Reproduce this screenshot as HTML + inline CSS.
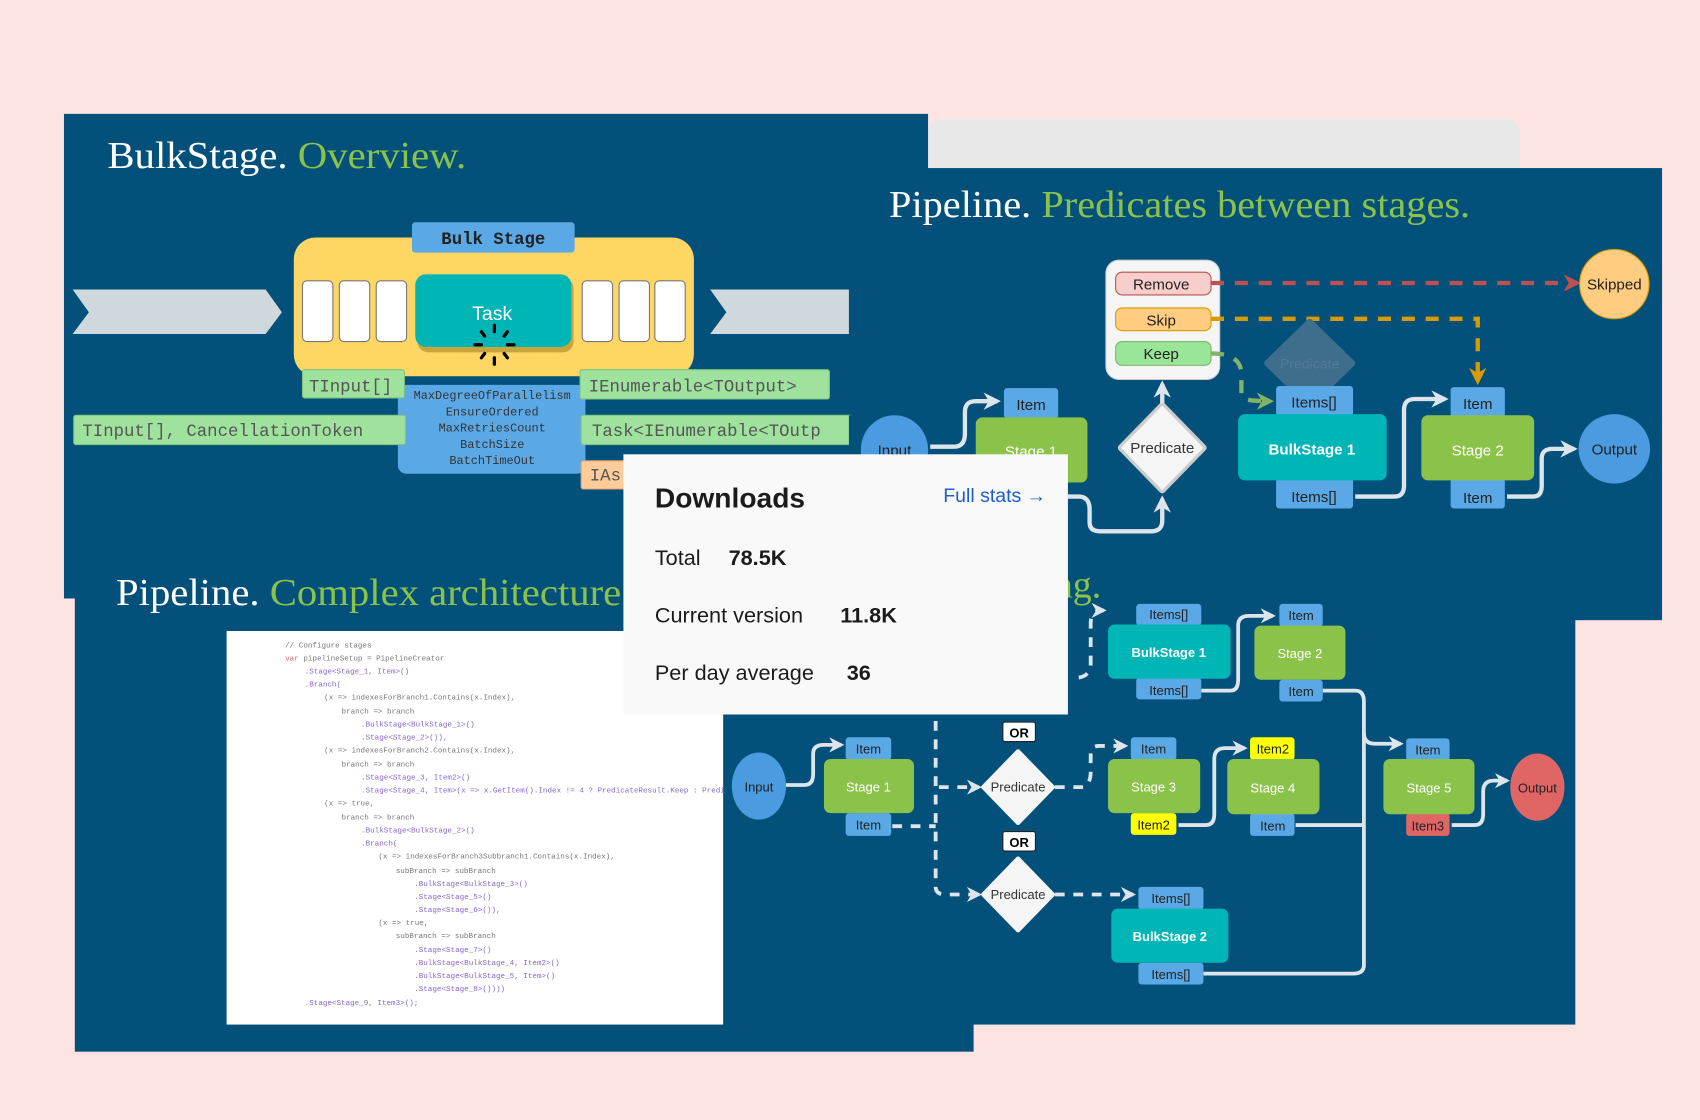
<!DOCTYPE html>
<html><head><meta charset="utf-8"><style>
html,body{margin:0;padding:0;background:#fde4e3;width:1700px;height:1120px;overflow:hidden}
svg{display:block}
.t{font-family:"Liberation Serif",serif;font-size:35px}
.s{font-family:"Liberation Sans",sans-serif}
.m{font-family:"Liberation Mono",monospace}
.c{font-family:"Liberation Mono",monospace;font-size:7px;fill:#777}
</style></head><body>
<svg width="1700" height="1120" viewBox="0 0 1568 1033" xmlns="http://www.w3.org/2000/svg">
<defs>
<marker id="aw" viewBox="0 0 10 10" refX="8" refY="5" markerWidth="4" markerHeight="4" orient="auto"><path d="M0,0L10,5L0,10L3,5z" fill="#dde5ea"/></marker>
<marker id="ar" viewBox="0 0 10 10" refX="8" refY="5" markerWidth="4" markerHeight="4" orient="auto"><path d="M0,0L10,5L0,10L3,5z" fill="#c0504d"/></marker>
<marker id="ay" viewBox="0 0 10 10" refX="8" refY="5" markerWidth="4" markerHeight="4" orient="auto"><path d="M0,0L10,5L0,10L3,5z" fill="#d79b00"/></marker>
<marker id="ag" viewBox="0 0 10 10" refX="8" refY="5" markerWidth="4" markerHeight="4" orient="auto"><path d="M0,0L10,5L0,10L3,5z" fill="#82b366"/></marker>
</defs>
<rect width="1568" height="1033" fill="#fde4e3"/>
<!-- slides -->
<rect x="856" y="110" width="546" height="60" rx="12" fill="#e8e8e8"/>
<rect x="59" y="105" width="797" height="447" fill="#03517b"/>
<rect x="795" y="155" width="738" height="417" fill="#03517b"/>
<rect x="69" y="540" width="829" height="430" fill="#03517b"/>
<rect x="667" y="560" width="786" height="385" fill="#03517b"/>

<!-- slide 1 -->
<text class="t" x="99" y="155" fill="#fff" textLength="331" lengthAdjust="spacingAndGlyphs">BulkStage. <tspan fill="#8bc34a">Overview.</tspan></text>
<polygon points="67,267 245,267 260,288 245,308 67,308 82,288" fill="#cfd8dc"/>
<polygon points="655,267 783,267 783,308 655,308 670,288" fill="#cfd8dc"/>
<rect x="271" y="219" width="369" height="128" rx="20" fill="#fdd663"/>
<rect x="380" y="205" width="150" height="28" rx="3" fill="#5aa9e6"/>
<text class="m" x="455" y="225" font-size="16" font-weight="bold" text-anchor="middle" fill="#222">Bulk Stage</text>
<g fill="#fff" stroke="#777" stroke-width="1">
<rect x="279" y="259" width="28" height="56" rx="4"/><rect x="313" y="259" width="28" height="56" rx="4"/><rect x="347" y="259" width="28" height="56" rx="4"/>
<rect x="537" y="259" width="28" height="56" rx="4"/><rect x="571" y="259" width="28" height="56" rx="4"/><rect x="604" y="259" width="28" height="56" rx="4"/>
</g>
<rect x="385" y="256" width="144" height="69" rx="10" fill="#c9a43a"/>
<rect x="383" y="253" width="144" height="67" rx="10" fill="#00b5b5"/>
<text class="s" x="454" y="295" font-size="18" text-anchor="middle" fill="#fff">Task</text>
<g stroke="#000" stroke-width="3" stroke-linecap="round">
<line x1="456" y1="300" x2="456" y2="306"/><line x1="456" y1="330" x2="456" y2="336"/>
<line x1="438" y1="318" x2="444" y2="318"/><line x1="468" y1="318" x2="474" y2="318"/>
<line x1="444" y1="306" x2="447" y2="310"/><line x1="468" y1="306" x2="465" y2="310"/>
<line x1="444" y1="330" x2="447" y2="326"/><line x1="468" y1="330" x2="465" y2="326"/>
</g>
<rect x="367" y="355" width="173" height="82" rx="8" fill="#5aa9e6"/>
<g class="m" font-size="11" fill="#333" text-anchor="middle">
<text x="454" y="368">MaxDegreeOfParallelism</text><text x="454" y="383">EnsureOrdered</text>
<text x="454" y="398">MaxRetriesCount</text><text x="454" y="413">BatchSize</text><text x="454" y="428">BatchTimeOut</text>
</g>
<g fill="#9ee29e" stroke="#7fc47f">
<rect x="279" y="341" width="94" height="26" rx="2"/>
<rect x="535" y="341" width="230" height="27" rx="2"/>
<rect x="68" y="383" width="306" height="27" rx="2"/>
<rect x="536" y="383" width="250" height="27" rx="2"/>
</g>
<rect x="536" y="425" width="50" height="26" rx="2" fill="#ffcc99" stroke="#e0a070"/>
<g class="m" font-size="16" fill="#555">
<text x="285" y="361">TInput[]</text>
<text x="543" y="361">IEnumerable&lt;TOutput&gt;</text>
<text x="76" y="402">TInput[], CancellationToken</text>
<text x="546" y="402">Task&lt;IEnumerable&lt;TOutp</text>
<text x="544" y="443">IAs</text>
</g>
<rect x="783" y="383" width="12" height="30" fill="#03517b"/>

<!-- slide 2 -->
<text class="t" x="820" y="200" fill="#fff" textLength="536" lengthAdjust="spacingAndGlyphs">Pipeline. <tspan fill="#8bc34a">Predicates between stages.</tspan></text>
<rect x="1020" y="240" width="105" height="110" rx="12" fill="#f5f5f5" stroke="#ccc"/>
<rect x="1029" y="251" width="88" height="21" rx="6" fill="#f8cecc" stroke="#b85450"/>
<rect x="1029" y="284" width="88" height="21" rx="6" fill="#ffcc80" stroke="#d79b00"/>
<rect x="1029" y="315" width="88" height="22" rx="6" fill="#99e699" stroke="#82b366"/>
<g class="s" font-size="14" fill="#222" text-anchor="middle">
<text x="1071" y="267">Remove</text><text x="1071" y="300">Skip</text><text x="1071" y="331">Keep</text></g>
<path d="M1117,261 H1455" stroke="#c0504d" stroke-width="4" stroke-dasharray="12,10" fill="none" marker-end="url(#ar)"/>
<path d="M1117,294 H1363 V352" stroke="#d79b00" stroke-width="4" stroke-dasharray="12,10" fill="none" marker-end="url(#ay)"/>
<path d="M1117,326 Q1145,326 1145,345 V365 Q1145,370 1172,370" stroke="#82b366" stroke-width="4" stroke-dasharray="12,10" fill="none" marker-end="url(#ag)"/>
<polygon points="1208,297 1247,335 1208,373 1169,335" fill="#3f6d8c" stroke="#3f6d8c" stroke-width="6" stroke-linejoin="round"/>
<text class="s" x="1208" y="340" font-size="13" fill="#557a95" text-anchor="middle">Predicate</text>
<ellipse cx="1489" cy="262" rx="32" ry="32" fill="#ffcc80" stroke="#d79b00"/>
<text class="s" x="1489" y="267" font-size="14" fill="#222" text-anchor="middle">Skipped</text>
<ellipse cx="825" cy="415" rx="31" ry="32" fill="#4a9be0"/>
<text class="s" x="825" y="420" font-size="14" fill="#222" text-anchor="middle">Input</text>
<path d="M858,412 H880 Q890,412 890,400 V380 Q890,370 900,370 H920" stroke="#dde5ea" stroke-width="4" fill="none" marker-end="url(#aw)"/>
<rect x="926" y="358" width="50" height="28" rx="3" fill="#5aa9e6"/>
<text class="s" x="951" y="378" font-size="14" fill="#222" text-anchor="middle">Item</text>
<rect x="900" y="385" width="103" height="60" rx="6" fill="#8bc34a"/>
<text class="s" x="951" y="421" font-size="14" fill="#fff" text-anchor="middle">Stage 1</text>
<polygon points="1072,374 1110,413 1072,452 1034,413" fill="#f5f5f5" stroke="#ccc" stroke-width="6" stroke-linejoin="round"/>
<polygon points="1072,374 1110,413 1072,452 1034,413" fill="#f5f5f5"/>
<text class="s" x="1072" y="418" font-size="14" fill="#333" text-anchor="middle">Predicate</text>
<path d="M1072,372 V354" stroke="#dde5ea" stroke-width="4" fill="none" marker-end="url(#aw)"/>
<path d="M985,458 H995 Q1005,458 1005,470 V482 Q1005,490 1015,490 H1062 Q1072,490 1072,480 V460" stroke="#dde5ea" stroke-width="4" fill="none" marker-end="url(#aw)"/>
<rect x="1177" y="356" width="71" height="28" rx="3" fill="#5aa9e6"/>
<rect x="1177" y="441" width="71" height="28" rx="3" fill="#5aa9e6"/>
<rect x="1142" y="382" width="137" height="61" rx="6" fill="#00b5b5"/>
<g class="s" font-size="14" fill="#222" text-anchor="middle"><text x="1212" y="376">Items[]</text><text x="1212" y="463">Items[]</text></g>
<text class="s" x="1210" y="419" font-size="14" font-weight="bold" fill="#fff" text-anchor="middle">BulkStage 1</text>
<rect x="1338" y="357" width="50" height="28" rx="3" fill="#5aa9e6"/>
<rect x="1338" y="441" width="50" height="28" rx="3" fill="#5aa9e6"/>
<rect x="1311" y="383" width="104" height="60" rx="6" fill="#8bc34a"/>
<g class="s" font-size="14" fill="#222" text-anchor="middle"><text x="1363" y="377">Item</text><text x="1363" y="464">Item</text></g>
<text class="s" x="1363" y="420" font-size="14" fill="#fff" text-anchor="middle">Stage 2</text>
<path d="M1250,458 H1286 Q1295,458 1295,448 V378 Q1295,368 1305,368 H1333" stroke="#dde5ea" stroke-width="4" fill="none" marker-end="url(#aw)"/>
<path d="M1390,458 H1414 Q1422,458 1422,448 V423 Q1422,414 1432,414 H1452" stroke="#dde5ea" stroke-width="4" fill="none" marker-end="url(#aw)"/>
<ellipse cx="1489" cy="414" rx="33" ry="32" fill="#4a9be0"/>
<text class="s" x="1489" y="419" font-size="14" fill="#222" text-anchor="middle">Output</text>

<!-- slide 3 -->
<text class="t" x="107" y="558" fill="#fff" textLength="466" lengthAdjust="spacingAndGlyphs">Pipeline. <tspan fill="#8bc34a">Complex architecture</tspan></text>
<text class="t" x="972" y="551" fill="#8bc34a">ng.</text>
<rect x="209" y="582" width="458" height="363" fill="#fff"/>
<g class="c">
<text x="263" y="597">// Configure stages</text>
<text x="263" y="609"><tspan fill="#d66">var</tspan> pipelineSetup = PipelineCreator</text>
<text x="281" y="621" fill="#86c">.Stage&lt;Stage_1, Item&gt;()</text>
<text x="281" y="633" fill="#86c">.Branch(</text>
<text x="299" y="645">(x =&gt; indexesForBranch1.Contains(x.Index),</text>
<text x="315" y="658">branch =&gt; branch</text>
<text x="333" y="670" fill="#86c">.BulkStage&lt;BulkStage_1&gt;()</text>
<text x="333" y="682" fill="#86c">.Stage&lt;Stage_2&gt;()),</text>
<text x="299" y="694">(x =&gt; indexesForBranch2.Contains(x.Index),</text>
<text x="315" y="707">branch =&gt; branch</text>
<text x="333" y="719" fill="#86c">.Stage&lt;Stage_3, Item2&gt;()</text>
<text x="333" y="731" fill="#86c">.Stage&lt;Stage_4, Item&gt;(x =&gt; x.GetItem().Index != 4 ? PredicateResult.Keep : Predi</text>
<text x="299" y="743">(x =&gt; true,</text>
<text x="315" y="756">branch =&gt; branch</text>
<text x="333" y="768" fill="#86c">.BulkStage&lt;BulkStage_2&gt;()</text>
<text x="333" y="780" fill="#86c">.Branch(</text>
<text x="349" y="792">(x =&gt; indexesForBranch3Subbranch1.Contains(x.Index),</text>
<text x="365" y="805">subBranch =&gt; subBranch</text>
<text x="382" y="817" fill="#86c">.BulkStage&lt;BulkStage_3&gt;()</text>
<text x="382" y="829" fill="#86c">.Stage&lt;Stage_5&gt;()</text>
<text x="382" y="841" fill="#86c">.Stage&lt;Stage_6&gt;()),</text>
<text x="349" y="853">(x =&gt; true,</text>
<text x="365" y="865">subBranch =&gt; subBranch</text>
<text x="382" y="878" fill="#86c">.Stage&lt;Stage_7&gt;()</text>
<text x="382" y="890" fill="#86c">.BulkStage&lt;BulkStage_4, Item2&gt;()</text>
<text x="382" y="902" fill="#86c">.BulkStage&lt;BulkStage_5, Item&gt;()</text>
<text x="382" y="914" fill="#86c">.Stage&lt;Stage_8&gt;())))</text>
<text x="281" y="927" fill="#86c">.Stage&lt;Stage_9, Item3&gt;();</text>
</g>

<!-- slide 4 -->
<g fill="none" stroke="#dde5ea" stroke-width="3.5">
<path d="M725,724 H742 Q750,724 750,714 V695 Q750,687 760,687 H776" marker-end="url(#aw)"/>
<path d="M1108,637 H1135 Q1142,637 1142,627 V577 Q1142,568 1152,568 H1174" marker-end="url(#aw)"/>
<path d="M1087,761 H1112 Q1120,761 1120,751 V700 Q1120,690 1130,690 H1148" marker-end="url(#aw)"/>
<path d="M1220,637 H1250 Q1258,637 1258,647 V890 Q1258,898 1248,898 H1110"/>
<path d="M1195,761 H1258"/>
<path d="M1258,676 Q1258,686 1268,686 H1292" marker-end="url(#aw)"/>
<path d="M1339,761 H1360 Q1368,761 1368,751 V730 Q1368,720 1378,720 H1390" marker-end="url(#aw)"/>
</g>
<g fill="none" stroke="#dde5ea" stroke-width="3.5" stroke-dasharray="9,8">
<path d="M823,762 H863"/>
<path d="M863,665 V818 Q863,825 872,825 H903" marker-end="url(#aw)"/>
<path d="M866,726 H903" marker-end="url(#aw)"/>
<path d="M973,726 H1000 Q1006,722 1006,712 V695 Q1006,688 1014,688 H1038" marker-end="url(#aw)"/>
<path d="M995,625 Q1006,623 1006,612 V575 Q1006,563 1016,563 H1018" marker-end="url(#aw)"/>
<path d="M973,825 H1045" marker-end="url(#aw)"/>
</g>
<ellipse cx="700" cy="725" rx="25" ry="31" fill="#4a9be0"/>
<g class="s" font-size="12" fill="#222" text-anchor="middle">
<text x="700" y="730">Input</text>
<rect x="780" y="680" width="42" height="21" rx="3" fill="#5aa9e6"/><text x="801" y="695">Item</text>
<rect x="780" y="750" width="42" height="21" rx="3" fill="#5aa9e6"/><text x="801" y="765">Item</text>
<rect x="760" y="700" width="83" height="50" rx="6" fill="#8bc34a"/><text x="801" y="730" fill="#fff">Stage 1</text>

<rect x="1048" y="557" width="60" height="20" rx="3" fill="#5aa9e6"/><text x="1078" y="571">Items[]</text>
<rect x="1048" y="625" width="60" height="20" rx="3" fill="#5aa9e6"/><text x="1078" y="641">Items[]</text>
<rect x="1022" y="576" width="113" height="50" rx="6" fill="#00b5b5"/><text x="1078" y="606" fill="#fff" font-weight="bold">BulkStage 1</text>

<rect x="1180" y="557" width="40" height="21" rx="3" fill="#5aa9e6"/><text x="1200" y="572">Item</text>
<rect x="1180" y="627" width="40" height="20" rx="3" fill="#5aa9e6"/><text x="1200" y="642">Item</text>
<rect x="1157" y="577" width="84" height="50" rx="6" fill="#8bc34a"/><text x="1199" y="607" fill="#fff">Stage 2</text>

<rect x="1043" y="680" width="42" height="21" rx="3" fill="#5aa9e6"/><text x="1064" y="695">Item</text>
<rect x="1043" y="750" width="42" height="20" rx="3" fill="#ffff00"/><text x="1064" y="765">Item2</text>
<rect x="1022" y="700" width="85" height="50" rx="6" fill="#8bc34a"/><text x="1064" y="730" fill="#fff">Stage 3</text>

<rect x="1153" y="680" width="41" height="21" rx="3" fill="#ffff00"/><text x="1174" y="695">Item2</text>
<rect x="1153" y="750" width="41" height="21" rx="3" fill="#5aa9e6"/><text x="1174" y="766">Item</text>
<rect x="1132" y="700" width="85" height="51" rx="6" fill="#8bc34a"/><text x="1174" y="731" fill="#fff">Stage 4</text>

<rect x="1297" y="681" width="40" height="21" rx="3" fill="#5aa9e6"/><text x="1317" y="696">Item</text>
<rect x="1297" y="750" width="40" height="21" rx="3" fill="#e06666"/><text x="1317" y="766">Item3</text>
<rect x="1276" y="700" width="84" height="51" rx="6" fill="#8bc34a"/><text x="1318" y="731" fill="#fff">Stage 5</text>

<ellipse cx="1418" cy="726" rx="25" ry="31" fill="#e06666"/><text x="1418" y="731">Output</text>

<rect x="1050" y="818" width="60" height="21" rx="3" fill="#5aa9e6"/><text x="1080" y="833">Items[]</text>
<rect x="1050" y="888" width="60" height="20" rx="3" fill="#5aa9e6"/><text x="1080" y="903">Items[]</text>
<rect x="1025" y="838" width="108" height="50" rx="6" fill="#00b5b5"/><text x="1079" y="868" fill="#fff" font-weight="bold">BulkStage 2</text>

<polygon points="939,693 971,726 939,759 907,726" fill="#f5f5f5" stroke="#f5f5f5" stroke-width="4" stroke-linejoin="round"/><text x="939" y="730" fill="#333">Predicate</text>
<polygon points="939,792 971,825 939,858 907,825" fill="#f5f5f5" stroke="#f5f5f5" stroke-width="4" stroke-linejoin="round"/><text x="939" y="829" fill="#333">Predicate</text>
<rect x="925" y="666" width="30" height="18" rx="2" fill="#fff" stroke="#222"/><text x="940" y="680" font-weight="bold" fill="#000">OR</text>
<rect x="925" y="767" width="30" height="18" rx="2" fill="#fff" stroke="#222"/><text x="940" y="781" font-weight="bold" fill="#000">OR</text>
</g>

<!-- downloads card -->
<rect x="575" y="419" width="410" height="240" fill="#f9f9f9"/>
<g class="s" fill="#1b1b1b">
<text x="604" y="468" font-size="26" font-weight="bold">Downloads</text>
<text x="870" y="463" font-size="18" fill="#1a5fd0">Full stats →</text>
<text x="604" y="521" font-size="20">Total</text><text x="672" y="521" font-size="20" font-weight="bold">78.5K</text>
<text x="604" y="574" font-size="20">Current version</text><text x="775" y="574" font-size="20" font-weight="bold">11.8K</text>
<text x="604" y="627" font-size="20">Per day average</text><text x="781" y="627" font-size="20" font-weight="bold">36</text>
</g>
</svg>
</body></html>
